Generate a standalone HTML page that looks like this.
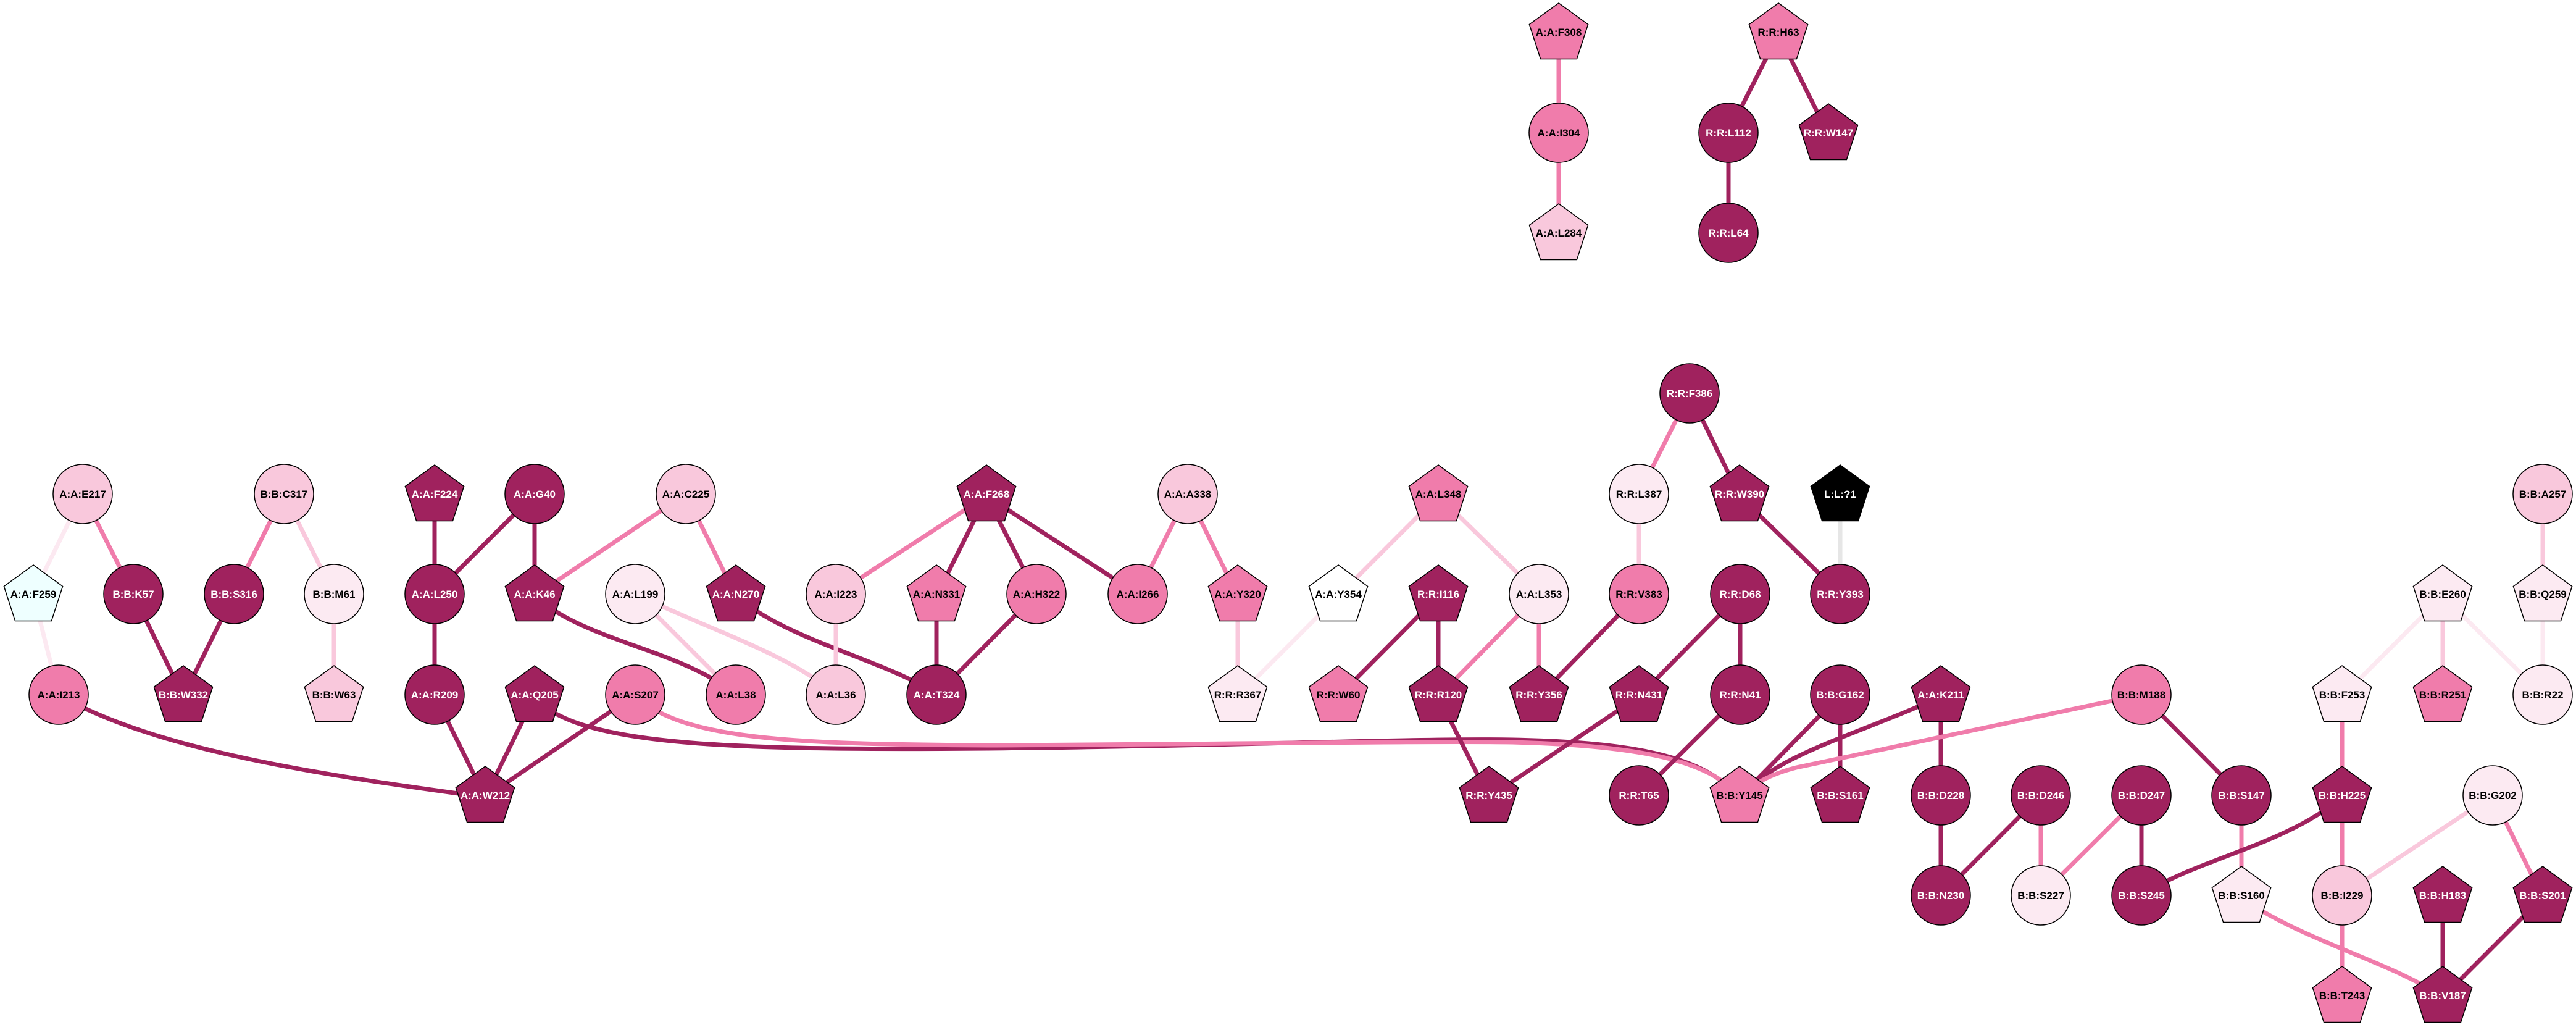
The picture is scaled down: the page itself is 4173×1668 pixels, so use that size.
<!DOCTYPE html>
<html><head><meta charset="utf-8"><style>
html,body{margin:0;padding:0;background:#fff;}
svg{display:block;}
text{font-family:"Liberation Sans",sans-serif;font-weight:bold;font-size:17px;text-anchor:middle;}
.w{fill:#fff}.b{fill:#000}
circle,polygon{stroke:#000;stroke-width:1.5}
line,path{fill:none;stroke-width:7;stroke-linecap:butt}
.eD{stroke:#A0225E}.eM{stroke:#F07CAB}.eL{stroke:#F9C8DC}.eV{stroke:#FCE9F1}.eG{stroke:#E6E6E6}
</style></head><body>
<svg width="4173" height="1668" viewBox="0 0 4173 1668" xmlns="http://www.w3.org/2000/svg">
<defs>
<polygon id="pg" points="0,-50 47.6,-15.5 29.4,40.5 -29.4,40.5 -47.6,-15.5"/>
</defs>
<!-- edges -->
<line class="eV" x1="134" y1="800" x2="54" y2="962"/>
<line class="eM" x1="134" y1="800" x2="216" y2="962"/>
<line class="eV" x1="54" y1="962" x2="95" y2="1125"/>
<line class="eD" x1="216" y1="962" x2="297" y2="1128"/>
<line class="eD" x1="379" y1="962" x2="297" y2="1128"/>
<line class="eM" x1="460" y1="800" x2="379" y2="962"/>
<line class="eL" x1="460" y1="800" x2="541" y2="962"/>
<line class="eL" x1="541" y1="962" x2="541" y2="1128"/>
<line class="eD" x1="704" y1="803" x2="704" y2="962"/>
<line class="eD" x1="866" y1="800" x2="704" y2="962"/>
<line class="eD" x1="866" y1="800" x2="866" y2="965"/>
<line class="eD" x1="704" y1="962" x2="704" y2="1125"/>
<line class="eM" x1="1111" y1="800" x2="866" y2="965"/>
<line class="eM" x1="1111" y1="800" x2="1192" y2="965"/>
<path class="eD" d="M866,965 C950,1040 1100,1050 1192,1125"/>
<line class="eL" x1="1029" y1="962" x2="1192" y2="1125"/>
<path class="eL" d="M1029,962 C1150,1020 1280,1060 1354,1125"/>
<path class="eD" d="M1192,965 C1280,1040 1440,1070 1517,1125"/>
<line class="eL" x1="1354" y1="962" x2="1354" y2="1125"/>
<line class="eD" x1="704" y1="1125" x2="786" y2="1291"/>
<line class="eD" x1="866" y1="1128" x2="786" y2="1291"/>
<line class="eD" x1="1029" y1="1125" x2="786" y2="1291"/>
<path class="eD" d="M95,1125 C250,1215 520,1255 786,1291"/>
<path class="eD" d="M866,1128 C930,1210 1200,1215 1600,1212 C2000,1208 2300,1195 2450,1198 C2650,1202 2760,1225 2818,1291"/>
<path class="eM" d="M1029,1125 C1100,1200 1300,1205 1600,1207 C2000,1205 2300,1200 2450,1202 C2650,1207 2770,1230 2818,1291"/>
<line class="eM" x1="1598" y1="803" x2="1354" y2="962"/>
<line class="eD" x1="1598" y1="803" x2="1517" y2="965"/>
<line class="eD" x1="1598" y1="803" x2="1679" y2="962"/>
<line class="eD" x1="1598" y1="803" x2="1843" y2="962"/>
<line class="eD" x1="1517" y1="965" x2="1517" y2="1125"/>
<line class="eD" x1="1679" y1="962" x2="1517" y2="1125"/>
<line class="eM" x1="1924" y1="800" x2="1843" y2="962"/>
<line class="eM" x1="1924" y1="800" x2="2005" y2="965"/>
<line class="eL" x1="2005" y1="965" x2="2005" y2="1128"/>
<line class="eV" x1="2168" y1="965" x2="2005" y2="1128"/>
<line class="eL" x1="2330" y1="803" x2="2168" y2="965"/>
<line class="eL" x1="2330" y1="803" x2="2493" y2="962"/>
<line class="eD" x1="2330" y1="965" x2="2168" y2="1128"/>
<line class="eD" x1="2330" y1="965" x2="2330" y2="1128"/>
<line class="eM" x1="2493" y1="962" x2="2330" y2="1128"/>
<line class="eM" x1="2493" y1="962" x2="2493" y2="1128"/>
<line class="eD" x1="2330" y1="1128" x2="2412" y2="1291"/>
<line class="eD" x1="2655" y1="962" x2="2493" y2="1128"/>
<line class="eL" x1="2655" y1="800" x2="2655" y2="962"/>
<line class="eM" x1="2737" y1="637" x2="2655" y2="800"/>
<line class="eD" x1="2737" y1="637" x2="2818" y2="803"/>
<line class="eD" x1="2818" y1="803" x2="2981" y2="962"/>
<line class="eG" x1="2981" y1="803" x2="2981" y2="962"/>
<line class="eD" x1="2819" y1="962" x2="2655" y2="1128"/>
<line class="eD" x1="2819" y1="962" x2="2819" y2="1125"/>
<line class="eD" x1="2655" y1="1128" x2="2412" y2="1291"/>
<line class="eD" x1="2819" y1="1125" x2="2655" y2="1288"/>
<line class="eD" x1="2981" y1="1125" x2="2818" y2="1291"/>
<line class="eD" x1="2981" y1="1125" x2="2981" y2="1291"/>
<path class="eD" d="M3144,1128 C3010,1190 2880,1220 2818,1291"/>
<line class="eD" x1="3144" y1="1128" x2="3144" y2="1288"/>
<path class="eM" d="M3469,1125 L2910,1243 Q2850,1258 2818,1291"/>
<line class="eD" x1="3469" y1="1125" x2="3631" y2="1288"/>
<line class="eD" x1="3144" y1="1288" x2="3144" y2="1450"/>
<line class="eD" x1="3306" y1="1288" x2="3144" y2="1450"/>
<line class="eM" x1="3306" y1="1288" x2="3306" y2="1450"/>
<line class="eM" x1="3469" y1="1288" x2="3306" y2="1450"/>
<line class="eD" x1="3469" y1="1288" x2="3469" y2="1450"/>
<line class="eM" x1="3631" y1="1288" x2="3631" y2="1453"/>
<path class="eD" d="M3794,1291 C3700,1370 3560,1390 3469,1450"/>
<line class="eM" x1="3794" y1="1128" x2="3794" y2="1291"/>
<line class="eM" x1="3794" y1="1291" x2="3794" y2="1450"/>
<line class="eL" x1="4038" y1="1288" x2="3794" y2="1450"/>
<line class="eM" x1="4038" y1="1288" x2="4119" y2="1453"/>
<line class="eM" x1="3794" y1="1450" x2="3794" y2="1615"/>
<path class="eM" d="M3631,1453 C3720,1520 3880,1560 3957,1615"/>
<line class="eD" x1="3957" y1="1453" x2="3957" y2="1615"/>
<line class="eD" x1="4119" y1="1453" x2="3957" y2="1615"/>
<line class="eV" x1="3957" y1="965" x2="3794" y2="1128"/>
<line class="eL" x1="3957" y1="965" x2="3957" y2="1128"/>
<line class="eV" x1="3957" y1="965" x2="4119" y2="1125"/>
<line class="eL" x1="4119" y1="800" x2="4119" y2="965"/>
<line class="eV" x1="4119" y1="965" x2="4119" y2="1125"/>
<line class="eM" x1="2525" y1="55" x2="2525" y2="215"/>
<line class="eM" x1="2525" y1="215" x2="2525" y2="380"/>
<line class="eD" x1="2881" y1="55" x2="2800" y2="215"/>
<line class="eD" x1="2881" y1="55" x2="2962" y2="218"/>
<line class="eD" x1="2800" y1="215" x2="2800" y2="377"/>

<!-- nodes -->
<circle cx="134" cy="800" r="48" fill="#F9C8DC"/><text x="134" y="806">A:A:E217</text>
<circle cx="460" cy="800" r="48" fill="#F9C8DC"/><text x="460" y="806">B:B:C317</text>
<use href="#pg" x="704" y="803" fill="#A0225E"/><text class="w" x="704" y="806">A:A:F224</text>
<circle cx="866" cy="800" r="48" fill="#A0225E"/><text class="w" x="866" y="806">A:A:G40</text>
<circle cx="1111" cy="800" r="48" fill="#F9C8DC"/><text x="1111" y="806">A:A:C225</text>
<use href="#pg" x="1598" y="803" fill="#A0225E"/><text class="w" x="1598" y="806">A:A:F268</text>
<circle cx="1924" cy="800" r="48" fill="#F9C8DC"/><text x="1924" y="806">A:A:A338</text>
<use href="#pg" x="2330" y="803" fill="#F07CAB"/><text x="2330" y="806">A:A:L348</text>
<circle cx="2655" cy="800" r="48" fill="#FCEAF2"/><text x="2655" y="806">R:R:L387</text>
<use href="#pg" x="2818" y="803" fill="#A0225E"/><text class="w" x="2818" y="806">R:R:W390</text>
<use href="#pg" x="2981" y="803" fill="#000"/><text class="w" x="2981" y="806">L:L:?1</text>
<circle cx="4119" cy="800" r="48" fill="#F9C8DC"/><text x="4119" y="806">B:B:A257</text>
<circle cx="2737" cy="637" r="48" fill="#A0225E"/><text class="w" x="2737" y="643">R:R:F386</text>

<use href="#pg" x="54" y="965" fill="#EEFFFF"/><text x="54" y="968">A:A:F259</text>
<circle cx="216" cy="962" r="48" fill="#A0225E"/><text class="w" x="216" y="968">B:B:K57</text>
<circle cx="379" cy="962" r="48" fill="#A0225E"/><text class="w" x="379" y="968">B:B:S316</text>
<circle cx="541" cy="962" r="48" fill="#FCEAF2"/><text x="541" y="968">B:B:M61</text>
<circle cx="704" cy="962" r="48" fill="#A0225E"/><text class="w" x="704" y="968">A:A:L250</text>
<use href="#pg" x="866" y="965" fill="#A0225E"/><text class="w" x="866" y="968">A:A:K46</text>
<circle cx="1029" cy="962" r="48" fill="#FCEAF2"/><text x="1029" y="968">A:A:L199</text>
<use href="#pg" x="1192" y="965" fill="#A0225E"/><text class="w" x="1192" y="968">A:A:N270</text>
<circle cx="1354" cy="962" r="48" fill="#F9C8DC"/><text x="1354" y="968">A:A:I223</text>
<use href="#pg" x="1517" y="965" fill="#F07CAB"/><text x="1517" y="968">A:A:N331</text>
<circle cx="1679" cy="962" r="48" fill="#F07CAB"/><text x="1679" y="968">A:A:H322</text>
<circle cx="1843" cy="962" r="48" fill="#F07CAB"/><text x="1843" y="968">A:A:I266</text>
<use href="#pg" x="2005" y="965" fill="#F07CAB"/><text x="2005" y="968">A:A:Y320</text>
<use href="#pg" x="2168" y="965" fill="#FFFFFF"/><text x="2168" y="968">A:A:Y354</text>
<use href="#pg" x="2330" y="965" fill="#A0225E"/><text class="w" x="2330" y="968">R:R:I116</text>
<circle cx="2493" cy="962" r="48" fill="#FCEAF2"/><text x="2493" y="968">A:A:L353</text>
<circle cx="2655" cy="962" r="48" fill="#F07CAB"/><text x="2655" y="968">R:R:V383</text>
<circle cx="2819" cy="962" r="48" fill="#A0225E"/><text class="w" x="2819" y="968">R:R:D68</text>
<circle cx="2981" cy="962" r="48" fill="#A0225E"/><text class="w" x="2981" y="968">R:R:Y393</text>
<use href="#pg" x="3957" y="965" fill="#FCEAF2"/><text x="3957" y="968">B:B:E260</text>
<use href="#pg" x="4119" y="965" fill="#FCEAF2"/><text x="4119" y="968">B:B:Q259</text>

<circle cx="95" cy="1125" r="48" fill="#F07CAB"/><text x="95" y="1131">A:A:I213</text>
<use href="#pg" x="297" y="1128" fill="#A0225E"/><text class="w" x="297" y="1131">B:B:W332</text>
<use href="#pg" x="541" y="1128" fill="#F9C8DC"/><text x="541" y="1131">B:B:W63</text>
<circle cx="704" cy="1125" r="48" fill="#A0225E"/><text class="w" x="704" y="1131">A:A:R209</text>
<use href="#pg" x="866" y="1128" fill="#A0225E"/><text class="w" x="866" y="1131">A:A:Q205</text>
<circle cx="1029" cy="1125" r="48" fill="#F07CAB"/><text x="1029" y="1131">A:A:S207</text>
<circle cx="1192" cy="1125" r="48" fill="#F07CAB"/><text x="1192" y="1131">A:A:L38</text>
<circle cx="1354" cy="1125" r="48" fill="#F9C8DC"/><text x="1354" y="1131">A:A:L36</text>
<circle cx="1517" cy="1125" r="48" fill="#A0225E"/><text class="w" x="1517" y="1131">A:A:T324</text>
<use href="#pg" x="2005" y="1128" fill="#FCEAF2"/><text x="2005" y="1131">R:R:R367</text>
<use href="#pg" x="2168" y="1128" fill="#F07CAB"/><text x="2168" y="1131">R:R:W60</text>
<use href="#pg" x="2330" y="1128" fill="#A0225E"/><text class="w" x="2330" y="1131">R:R:R120</text>
<use href="#pg" x="2493" y="1128" fill="#A0225E"/><text class="w" x="2493" y="1131">R:R:Y356</text>
<use href="#pg" x="2655" y="1128" fill="#A0225E"/><text class="w" x="2655" y="1131">R:R:N431</text>
<circle cx="2819" cy="1125" r="48" fill="#A0225E"/><text class="w" x="2819" y="1131">R:R:N41</text>
<circle cx="2981" cy="1125" r="48" fill="#A0225E"/><text class="w" x="2981" y="1131">B:B:G162</text>
<use href="#pg" x="3144" y="1128" fill="#A0225E"/><text class="w" x="3144" y="1131">A:A:K211</text>
<circle cx="3469" cy="1125" r="48" fill="#F07CAB"/><text x="3469" y="1131">B:B:M188</text>
<use href="#pg" x="3794" y="1128" fill="#FCEAF2"/><text x="3794" y="1131">B:B:F253</text>
<use href="#pg" x="3957" y="1128" fill="#F07CAB"/><text x="3957" y="1131">B:B:R251</text>
<circle cx="4119" cy="1125" r="48" fill="#FCEAF2"/><text x="4119" y="1131">B:B:R22</text>

<use href="#pg" x="786" y="1291" fill="#A0225E"/><text class="w" x="786" y="1294">A:A:W212</text>
<use href="#pg" x="2412" y="1291" fill="#A0225E"/><text class="w" x="2412" y="1294">R:R:Y435</text>
<circle cx="2655" cy="1288" r="48" fill="#A0225E"/><text class="w" x="2655" y="1294">R:R:T65</text>
<use href="#pg" x="2818" y="1291" fill="#F07CAB"/><text x="2818" y="1294">B:B:Y145</text>
<use href="#pg" x="2981" y="1291" fill="#A0225E"/><text class="w" x="2981" y="1294">B:B:S161</text>
<circle cx="3144" cy="1288" r="48" fill="#A0225E"/><text class="w" x="3144" y="1294">B:B:D228</text>
<circle cx="3306" cy="1288" r="48" fill="#A0225E"/><text class="w" x="3306" y="1294">B:B:D246</text>
<circle cx="3469" cy="1288" r="48" fill="#A0225E"/><text class="w" x="3469" y="1294">B:B:D247</text>
<circle cx="3631" cy="1288" r="48" fill="#A0225E"/><text class="w" x="3631" y="1294">B:B:S147</text>
<use href="#pg" x="3794" y="1291" fill="#A0225E"/><text class="w" x="3794" y="1294">B:B:H225</text>
<circle cx="4038" cy="1288" r="48" fill="#FCEAF2"/><text x="4038" y="1294">B:B:G202</text>

<circle cx="3144" cy="1450" r="48" fill="#A0225E"/><text class="w" x="3144" y="1456">B:B:N230</text>
<circle cx="3306" cy="1450" r="48" fill="#FCEAF2"/><text x="3306" y="1456">B:B:S227</text>
<circle cx="3469" cy="1450" r="48" fill="#A0225E"/><text class="w" x="3469" y="1456">B:B:S245</text>
<use href="#pg" x="3631" y="1453" fill="#FCEAF2"/><text x="3631" y="1456">B:B:S160</text>
<circle cx="3794" cy="1450" r="48" fill="#F9C8DC"/><text x="3794" y="1456">B:B:I229</text>
<use href="#pg" x="3957" y="1453" fill="#A0225E"/><text class="w" x="3957" y="1456">B:B:H183</text>
<use href="#pg" x="4119" y="1453" fill="#A0225E"/><text class="w" x="4119" y="1456">B:B:S201</text>

<use href="#pg" x="3794" y="1615" fill="#F07CAB"/><text x="3794" y="1618">B:B:T243</text>
<use href="#pg" x="3957" y="1615" fill="#A0225E"/><text class="w" x="3957" y="1618">B:B:V187</text>

<use href="#pg" x="2525" y="55" fill="#F07CAB"/><text x="2525" y="58">A:A:F308</text>
<circle cx="2525" cy="215" r="48" fill="#F07CAB"/><text x="2525" y="221">A:A:I304</text>
<use href="#pg" x="2525" y="380" fill="#F9C8DC"/><text x="2525" y="383">A:A:L284</text>
<use href="#pg" x="2881" y="55" fill="#F07CAB"/><text x="2881" y="58">R:R:H63</text>
<circle cx="2800" cy="215" r="48" fill="#A0225E"/><text class="w" x="2800" y="221">R:R:L112</text>
<use href="#pg" x="2962" y="218" fill="#A0225E"/><text class="w" x="2962" y="221">R:R:W147</text>
<circle cx="2800" cy="377" r="48" fill="#A0225E"/><text class="w" x="2800" y="383">R:R:L64</text>
</svg>
</body></html>
